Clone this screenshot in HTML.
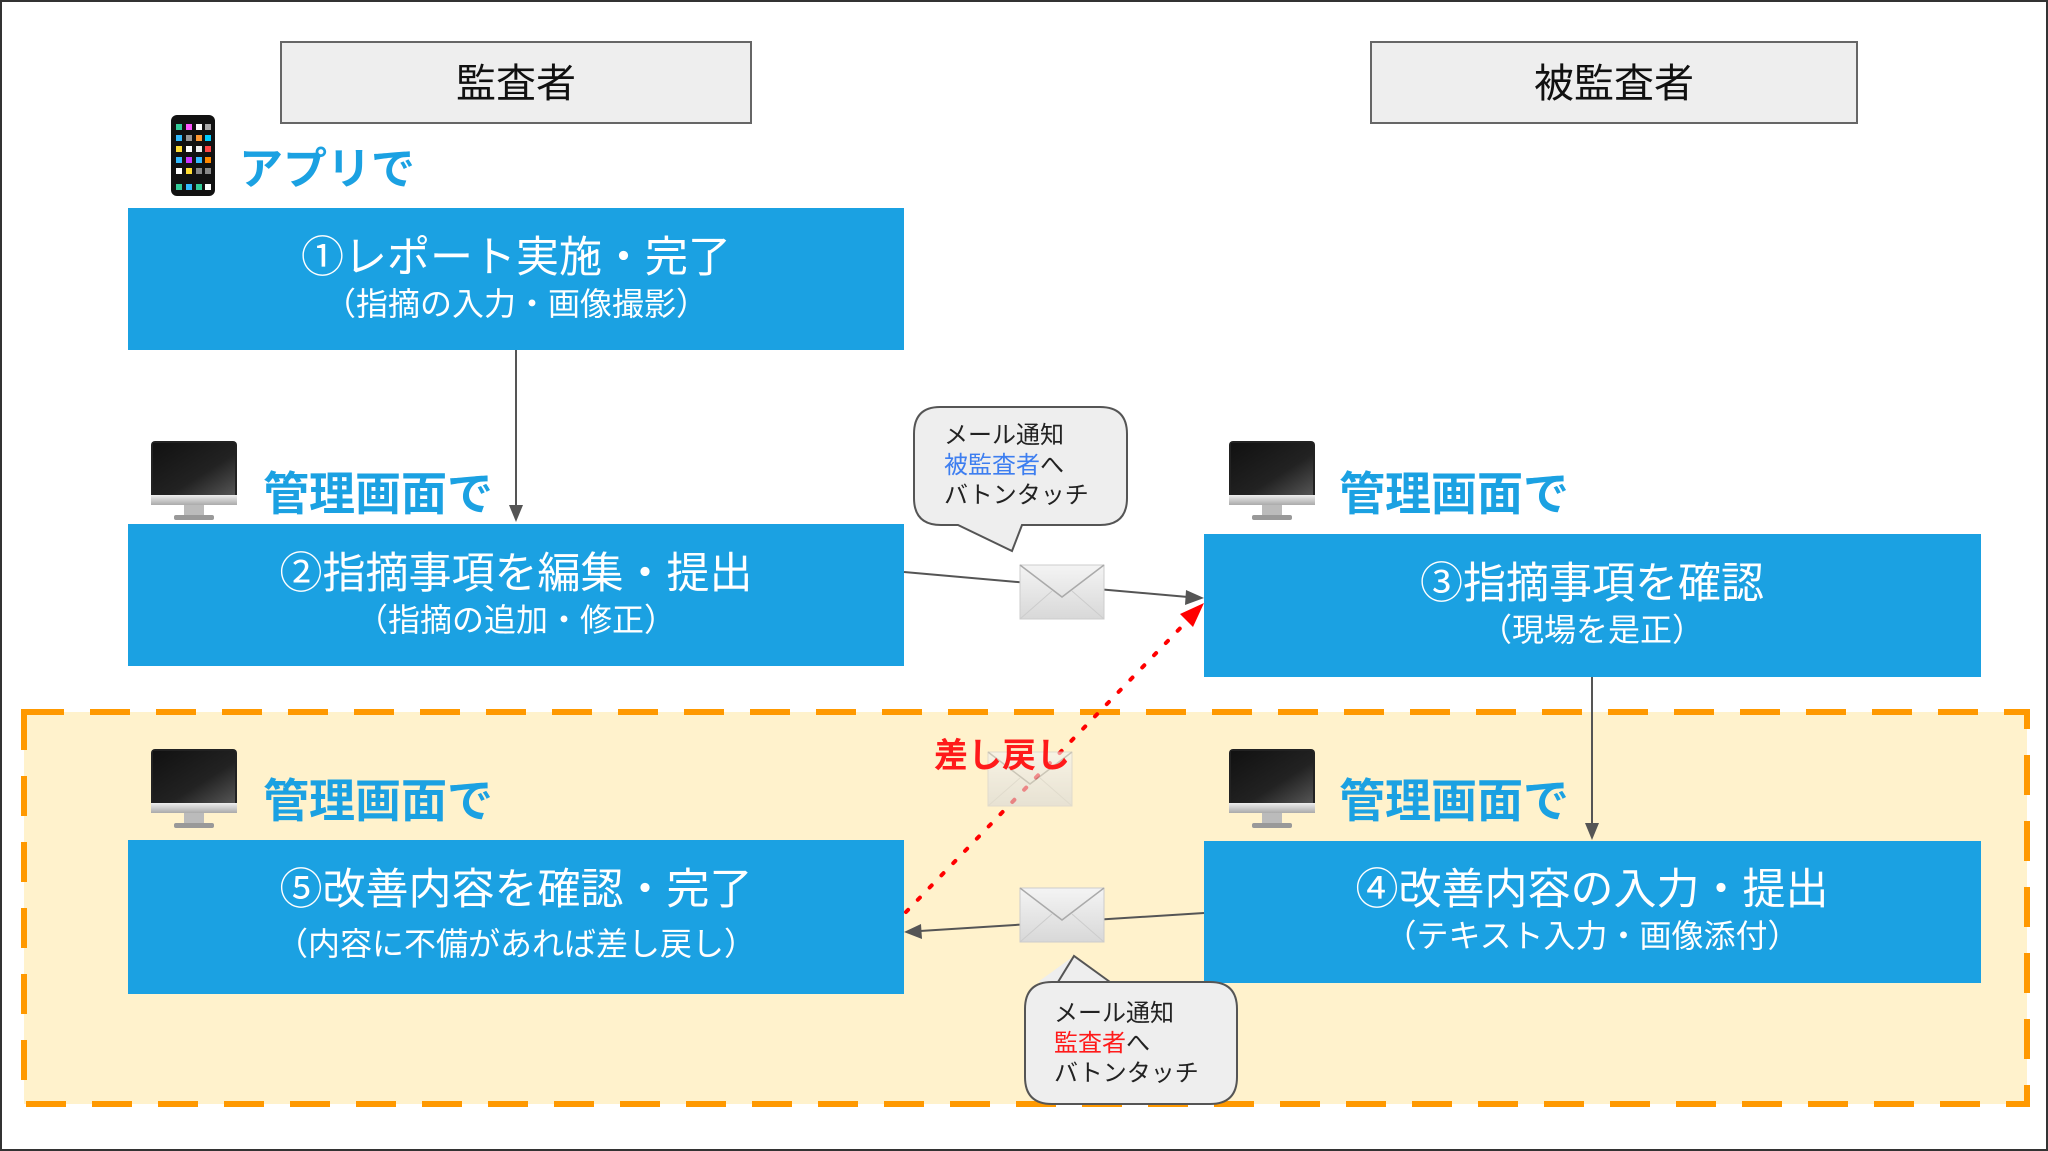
<!DOCTYPE html>
<html><head><meta charset="utf-8"><style>
html,body{margin:0;padding:0;background:#fff;}
svg{display:block;}
text{font-family:"Liberation Sans","Noto Sans CJK JP",sans-serif;}
</style></head><body>
<svg width="2048" height="1151" viewBox="0 0 2048 1151" xmlns="http://www.w3.org/2000/svg">
<defs>
<linearGradient id="scr" x1="0" y1="0" x2="1" y2="1"><stop offset="0" stop-color="#111"/><stop offset="0.6" stop-color="#222"/><stop offset="1" stop-color="#555"/></linearGradient>
<linearGradient id="silv" x1="0" y1="0" x2="0" y2="1"><stop offset="0" stop-color="#eee"/><stop offset="1" stop-color="#aaa"/></linearGradient>
<linearGradient id="env" x1="0" y1="0" x2="0" y2="1"><stop offset="0" stop-color="#f4f4f4"/><stop offset="1" stop-color="#d8d8d8"/></linearGradient>
<g id="mon">
<rect x="0" y="0" width="86" height="64" rx="4" fill="#222"/>
<rect x="2" y="2" width="82" height="52" fill="url(#scr)"/>
<rect x="0" y="54" width="86" height="10" fill="url(#silv)"/>
<rect x="33" y="64" width="20" height="10" fill="#bbb"/>
<rect x="23" y="74" width="40" height="5" rx="2" fill="#999"/>
</g>
<g id="env1">
<rect x="0" y="0" width="84" height="54" fill="url(#env)" stroke="#ccc"/>
<path d="M0 0 L42 32 L84 0" fill="none" stroke="#aaa" stroke-width="1.5"/>
<path d="M0 54 L32 26 M84 54 L52 26" fill="none" stroke="#ccc" stroke-width="1"/>
</g>
</defs>
<rect x="1" y="1" width="2046" height="1149" fill="#fff" stroke="#333" stroke-width="2"/>
<rect x="24" y="712" width="2003" height="392" fill="#fff2cc" stroke="#ff9900" stroke-width="6" stroke-dasharray="40,26"/>
<rect x="281" y="42" width="470" height="81" fill="#eeeeee" stroke="#666" stroke-width="2"/>
<text x="516" y="97" font-size="40" text-anchor="middle" fill="#111">監査者</text>
<rect x="1371" y="42" width="486" height="81" fill="#eeeeee" stroke="#666" stroke-width="2"/>
<text x="1614" y="97" font-size="40" text-anchor="middle" fill="#111">被監査者</text>
<rect x="171" y="115" width="44" height="81" rx="6" fill="#111"/>
<g fill="#3c9"><rect x="176" y="124" width="6" height="6"/><rect x="186" y="124" width="6" height="6" fill="#f5f"/><rect x="196" y="124" width="6" height="6" fill="#fff"/><rect x="205" y="124" width="6" height="6" fill="#aaa"/>
<rect x="176" y="135" width="6" height="6" fill="#3bf"/><rect x="186" y="135" width="6" height="6" fill="#999"/><rect x="196" y="135" width="6" height="6" fill="#f93"/><rect x="205" y="135" width="6" height="6" fill="#0cf"/>
<rect x="176" y="146" width="6" height="6" fill="#fd3"/><rect x="186" y="146" width="6" height="6" fill="#fff"/><rect x="196" y="146" width="6" height="6" fill="#eee"/><rect x="205" y="146" width="6" height="6" fill="#f44"/>
<rect x="176" y="157" width="6" height="6" fill="#3bf"/><rect x="186" y="157" width="6" height="6" fill="#c3f"/><rect x="196" y="157" width="6" height="6" fill="#3bf"/><rect x="205" y="157" width="6" height="6" fill="#f80"/>
<rect x="176" y="168" width="6" height="6" fill="#fff"/><rect x="186" y="168" width="6" height="6" fill="#fd3"/><rect x="196" y="168" width="6" height="6" fill="#888"/><rect x="205" y="168" width="6" height="6" fill="#888"/>
<rect x="176" y="184" width="6" height="6"/><rect x="186" y="184" width="6" height="6" fill="#3bf"/><rect x="196" y="184" width="6" height="6" fill="#3c9"/><rect x="205" y="184" width="6" height="6" fill="#fff"/></g>
<text x="239" y="184" font-size="44" font-weight="bold" fill="#1ba1e2">アプリで</text>
<use href="#mon" x="151" y="441"/>
<text x="263" y="510" font-size="46" font-weight="bold" fill="#1ba1e2">管理画面で</text>
<use href="#mon" x="1229" y="441"/>
<text x="1339" y="510" font-size="46" font-weight="bold" fill="#1ba1e2">管理画面で</text>
<use href="#mon" x="151" y="749"/>
<text x="263" y="817" font-size="46" font-weight="bold" fill="#1ba1e2">管理画面で</text>
<use href="#mon" x="1229" y="749"/>
<text x="1339" y="817" font-size="46" font-weight="bold" fill="#1ba1e2">管理画面で</text>
<g fill="#1ba1e2">
<rect x="128" y="208" width="776" height="142"/>
<rect x="128" y="524" width="776" height="142"/>
<rect x="1204" y="534" width="777" height="143"/>
<rect x="128" y="840" width="776" height="154"/>
<rect x="1204" y="841" width="777" height="142"/>
</g>
<g fill="#fff" text-anchor="middle">
<text x="516" y="272" font-size="43">①レポート実施・完了</text>
<text x="516" y="315" font-size="32">（指摘の入力・画像撮影）</text>
<text x="516" y="588" font-size="43">②指摘事項を編集・提出</text>
<text x="516" y="631" font-size="32">（指摘の追加・修正）</text>
<text x="1592" y="598" font-size="43">③指摘事項を確認</text>
<text x="1592" y="641" font-size="32">（現場を是正）</text>
<text x="516" y="904" font-size="43">⑤改善内容を確認・完了</text>
<text x="516" y="955" font-size="32">（内容に不備があれば差し戻し）</text>
<text x="1592" y="904" font-size="43">④改善内容の入力・提出</text>
<text x="1592" y="947" font-size="32">（テキスト入力・画像添付）</text>
</g>
<g stroke="#555" stroke-width="2" fill="none">
<line x1="516" y1="350" x2="516" y2="508"/>
<line x1="1592" y1="677" x2="1592" y2="824"/>
<line x1="904" y1="572" x2="1188" y2="597"/>
<line x1="1204" y1="913" x2="920" y2="931"/>
</g>
<g fill="#555">
<polygon points="516,522 509,505 523,505"/>
<polygon points="1592,840 1585,823 1599,823"/>
<polygon points="1204,598 1186,590 1185,605"/>
<polygon points="904,932 921,924 922,939"/>
</g>
<line x1="906" y1="912" x2="1190" y2="618" stroke="#ff0000" stroke-width="4" stroke-dasharray="3,14" stroke-linecap="round"/>
<polygon points="1204,603 1180,614 1193,627" fill="#ff0000"/>
<use href="#env1" x="1020" y="565"/>
<use href="#env1" x="1020" y="888"/>
<g opacity="0.6"><use href="#env1" x="988" y="752"/></g>
<text x="934" y="767" font-size="34" font-weight="bold" fill="#ff1a1a">差し戻し</text>
<path d="M940 407 H1100 Q1127 407 1127 434 V498 Q1127 525 1100 525 H1022 L1012 551 L958 525 H941 Q914 525 914 498 V434 Q914 407 940 407 Z" fill="#eeeeee" stroke="#555" stroke-width="2"/>
<text x="944" y="443" font-size="24" fill="#222">メール通知</text>
<text x="944" y="473" font-size="24" fill="#222"><tspan fill="#3d7ef0">被監査者</tspan>へ</text>
<text x="944" y="503" font-size="24" fill="#222">バトンタッチ</text>
<path d="M1052 982 H1100 L1074 956 L1038 982 Z" fill="#eeeeee"/>
<path d="M1052 982 H1210 Q1237 982 1237 1009 V1077 Q1237 1104 1210 1104 H1052 Q1025 1104 1025 1077 V1009 Q1025 982 1052 982 H1058 L1074 956 L1110 982" fill="#eeeeee" stroke="#555" stroke-width="2"/>
<text x="1054" y="1021" font-size="24" fill="#222">メール通知</text>
<text x="1054" y="1051" font-size="24" fill="#222"><tspan fill="#ff1a1a">監査者</tspan>へ</text>
<text x="1054" y="1081" font-size="24" fill="#222">バトンタッチ</text>
</svg>
</body></html>
